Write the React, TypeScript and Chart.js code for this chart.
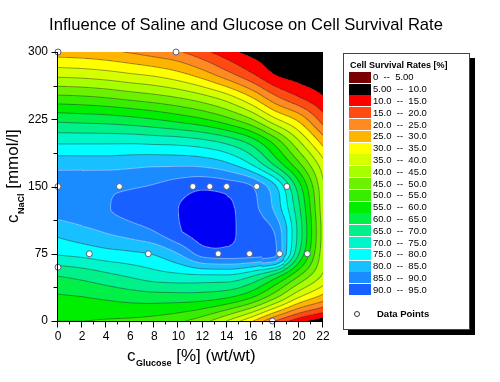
import React, { useEffect, useRef } from "react";
import { Chart, registerables } from "chart.js";
Chart.register(...registerables);

const FONT = "'Liberation Sans', Arial, Helvetica, sans-serif";

const chartTitle = "Influence of Saline and Glucose on Cell Survival Rate";
const legendTitle = "Cell Survival Rates [%]";

// grid axes of the survival surface
const glucoseGrid = [0, 2, 4, 6, 8, 10, 12, 14, 16, 18, 20, 22];
const naclGrid = [0, 25, 50, 75, 100, 125, 150, 175, 200, 225, 250, 275, 300];

// survival rate (%), one row per NaCl level
const survivalNaCl0 = [55, 55, 54.5, 54, 53, 51, 47, 40, 31, 20, 12, 7];
const survivalNaCl25 = [59, 59.5, 60.5, 61.5, 62, 62, 61.5, 59.5, 54.5, 45, 34, 27];
const survivalNaCl50 = [65, 66.5, 68.5, 70.5, 72.5, 73.5, 74, 74, 70.5, 62.5, 50, 39];
const survivalNaCl75 = [75.5, 76.5, 78, 79, 80.5, 85, 92, 93, 92.5, 91, 65, 42];
const survivalNaCl100 = [81.5, 83.5, 85.5, 87.5, 90, 94.5, 97, 96, 93, 89.5, 68, 43];
const survivalNaCl125 = [87.5, 88.5, 89.7, 91.5, 93, 95, 97, 96, 92, 84, 66, 42];
const survivalNaCl150 = [88, 88.5, 89, 89.5, 90.5, 92.5, 94, 93, 90.5, 81, 62, 41];
const survivalNaCl175 = [83, 83, 83, 83.5, 84, 84, 83.5, 81, 75, 64, 51, 37];
const survivalNaCl200 = [74, 74, 74, 74, 73.5, 73, 71.5, 68.5, 63, 53, 40.5, 28];
const survivalNaCl225 = [63.5, 63, 62.5, 61.5, 60, 58, 55.5, 51.5, 45.5, 36, 28.5, 17.5];
const survivalNaCl250 = [51, 50.5, 49.5, 48, 46.5, 44.5, 41.5, 37, 30, 21, 15, 10.3];
const survivalNaCl275 = [38.5, 38, 37, 35.5, 34, 31.5, 27.5, 22, 16, 10, 8, 7];
const survivalNaCl300 = [27.5, 27, 26, 24.5, 22.5, 20.5, 16.5, 12, 8.5, 7.5, 6.5, 6];

const survivalGrid = [
  survivalNaCl0, survivalNaCl25, survivalNaCl50, survivalNaCl75, survivalNaCl100,
  survivalNaCl125, survivalNaCl150, survivalNaCl175, survivalNaCl200, survivalNaCl225,
  survivalNaCl250, survivalNaCl275, survivalNaCl300,
];

// measured data points
const pointsGlucose = [0, 9.8, 0, 5.1, 11.2, 12.6, 14.0, 16.5, 19.0, 2.6, 7.5, 13.3, 15.9, 18.4, 20.7, 0, 17.8];
const pointsNaCl = [300, 300, 150, 150, 150, 150, 150, 150, 150, 75, 75, 75, 75, 75, 75, 60, 0];

// contour levels
const levelStep = 5;
const bandColors = [
  "#7a0000", "#000000", "#ff0000", "#ff4a12", "#ff8a22", "#ffb400", "#ffff00",
  "#d6ff00", "#a8ff00", "#6cf200", "#38ee00", "#00ee00", "#00f048", "#00f08a",
  "#00f6c8", "#00ffff", "#18c0ff", "#1a8cff", "#1860ff", "#0000f4",
];
const legendLabels = [
  "0  --  5.00", "5.00  --  10.0", "10.0  --  15.0", "15.0  --  20.0", "20.0  --  25.0",
  "25.0  --  30.0", "30.0  --  35.0", "35.0  --  40.0", "40.0  --  45.0", "45.0  --  50.0",
  "50.0  --  55.0", "55.0  --  60.0", "60.0  --  65.0", "65.0  --  70.0", "70.0  --  75.0",
  "75.0  --  80.0", "80.0  --  85.0", "85.0  --  90.0", "90.0  --  95.0",
];

function hexToRgb(h: string) {
  const v = parseInt(h.slice(1), 16);
  return [(v >> 16) & 255, (v >> 8) & 255, v & 255];
}
const bandRgb = bandColors.map(hexToRgb);

// monotone cubic Hermite between p1 and p2
function mono(p0: number, p1: number, p2: number, p3: number, t: number) {
  const d0 = p1 - p0, d1 = p2 - p1, d2 = p3 - p2;
  let m1 = (d0 + d1) / 2, m2 = (d1 + d2) / 2;
  if (d1 === 0) { m1 = 0; m2 = 0; }
  else {
    if (d0 * d1 <= 0) m1 = 0;
    if (d1 * d2 <= 0) m2 = 0;
    if (m1 / d1 > 3) m1 = 3 * d1;
    if (m2 / d1 > 3) m2 = 3 * d1;
  }
  const t2 = t * t, t3 = t2 * t;
  return p1 * (2 * t3 - 3 * t2 + 1) + m1 * (t3 - 2 * t2 + t) + p2 * (-2 * t3 + 3 * t2) + m2 * (t3 - t2);
}

function locate(arr: number[], v: number) {
  let i = 0;
  while (i < arr.length - 2 && v > arr[i + 1]) i++;
  const t = (v - arr[i]) / (arr[i + 1] - arr[i]);
  return [i, Math.max(0, Math.min(1, t))];
}

function at(arr: number[], k: number) {
  const m = arr.length;
  if (k < 0) return 2 * arr[0] - arr[1];
  if (k >= m) return 2 * arr[m - 1] - arr[m - 2];
  return arr[k];
}

function sampleSurvival(g: number, n: number) {
  const [ix, tx] = locate(glucoseGrid, g);
  const [iy, ty] = locate(naclGrid, n);
  const col: number[] = [];
  for (let j = -1; j <= 2; j++) {
    const k = iy + j;
    if (k < 0 || k >= survivalGrid.length) continue;
    const row = survivalGrid[k];
    col.push(mono(at(row, ix - 1), at(row, ix), at(row, ix + 1), at(row, ix + 2), tx));
  }
  let c0: number, c1: number, c2: number, c3: number;
  if (iy === 0) { c1 = col[0]; c2 = col[1]; c3 = col[2]; c0 = 2 * c1 - c2; }
  else if (iy + 2 >= survivalGrid.length) { c0 = col[0]; c1 = col[1]; c2 = col[2]; c3 = 2 * c2 - c1; }
  else { c0 = col[0]; c1 = col[1]; c2 = col[2]; c3 = col[3]; }
  return mono(c0, c1, c2, c3, ty);
}

const contourPlugin = {
  id: "contourFill",
  beforeDatasetsDraw(chart: any) {
    const { ctx, chartArea: a, scales } = chart;
    const xs = scales.x, ys = scales.y;
    const left = Math.round(a.left), top = Math.round(a.top);
    const w = Math.round(a.right) - left, h = Math.round(a.bottom) - top;
    const W = w + 2, H = h + 2;
    const vals = new Float32Array(W * H);
    for (let j = 0; j < H; j++) {
      const n = ys.getValueForPixel(top + j - 0.5);
      for (let i = 0; i < W; i++) {
        const g = xs.getValueForPixel(left + i - 0.5);
        vals[j * W + i] = sampleSurvival(g, n);
      }
    }
    const off = document.createElement("canvas");
    off.width = w; off.height = h;
    const octx = off.getContext("2d")!;
    const img = octx.createImageData(w, h);
    const d = img.data;
    for (let j = 0; j < h; j++) {
      for (let i = 0; i < w; i++) {
        const k = (j + 1) * W + (i + 1);
        const v = vals[k];
        const band = Math.max(0, Math.min(bandRgb.length - 1, Math.floor(v / levelStep)));
        let [r, gg, b] = bandRgb[band];
        const gx = (vals[k + 1] - vals[k - 1]) / 2;
        const gy = (vals[k + W] - vals[k - W]) / 2;
        const grad = Math.sqrt(gx * gx + gy * gy) + 1e-6;
        const L = Math.round(v / levelStep) * levelStep;
        if (L > 0 && L < 100) {
          const dist = Math.abs(v - L) / grad;
          const cov = Math.max(0, Math.min(1, 1 - dist));
          if (cov > 0) {
            const light = L >= 85;
            const lc = light ? [190, 205, 255] : [40, 40, 40];
            const al = (light ? 0.55 : 0.45) * cov;
            r = r * (1 - al) + lc[0] * al;
            gg = gg * (1 - al) + lc[1] * al;
            b = b * (1 - al) + lc[2] * al;
          }
        }
        const p = (j * w + i) * 4;
        d[p] = r; d[p + 1] = gg; d[p + 2] = b; d[p + 3] = 255;
      }
    }
    octx.putImageData(img, 0, 0);
    ctx.save();
    ctx.drawImage(off, left, top);
    ctx.restore();
  },
};

const decorPlugin = {
  id: "decor",
  afterDraw(chart: any) {
    const { ctx, chartArea: a, scales } = chart;
    const xs = scales.x, ys = scales.y;
    ctx.save();
    // title
    ctx.fillStyle = "#000";
    ctx.font = `16.6px ${FONT}`;
    ctx.textAlign = "center";
    ctx.textBaseline = "alphabetic";
    ctx.fillText(chartTitle, 246, 30);

    // axis lines
    ctx.strokeStyle = "#000";
    ctx.lineWidth = 1;
    const ax = Math.round(a.left) - 0.5;
    const ay = Math.round(a.bottom) + 0.5;
    ctx.beginPath();
    ctx.moveTo(ax, Math.round(a.top));
    ctx.lineTo(ax, ay);
    ctx.lineTo(Math.round(a.right), ay);
    ctx.stroke();
    // x ticks
    ctx.beginPath();
    for (let g = 0; g <= 22; g += 1) {
      const px = Math.round(xs.getPixelForValue(g)) - 0.5;
      const len = g % 2 === 0 ? 6 : 3;
      ctx.moveTo(px, ay);
      ctx.lineTo(px, ay + len);
    }
    // y ticks
    for (let n = 0; n <= 300; n += 37.5) {
      const py = Math.round(ys.getPixelForValue(n)) + 0.5;
      const len = n % 75 === 0 ? 6 : 4;
      ctx.moveTo(ax, py);
      ctx.lineTo(ax - len, py);
    }
    ctx.stroke();

    // x axis title
    ctx.textAlign = "left";
    ctx.font = `17px ${FONT}`;
    ctx.fillText("c", 127, 361);
    let cw = ctx.measureText("c").width;
    ctx.font = `bold 9px ${FONT}`;
    ctx.fillText("Glucose", 127 + cw + 0.5, 366);
    const sw = ctx.measureText("Glucose").width;
    ctx.font = `17px ${FONT}`;
    ctx.fillText(" [%] (wt/wt)", 127 + cw + 0.5 + sw, 361);

    // y axis title
    ctx.save();
    ctx.translate(18, 223);
    ctx.rotate(-Math.PI / 2);
    ctx.font = `17px ${FONT}`;
    ctx.fillText("c", 0, 0);
    cw = ctx.measureText("c").width;
    ctx.font = `bold 9px ${FONT}`;
    ctx.fillText("NaCl", cw + 0.5, 6);
    const nw = ctx.measureText("NaCl").width;
    ctx.font = `17px ${FONT}`;
    ctx.fillText(" [mmol/l]", cw + 0.5 + nw, 0);
    ctx.restore();

    // legend box
    const bx = 343, by = 53, bw = 127, bh = 277;
    ctx.fillStyle = "#000";
    ctx.fillRect(bx + 5, by + 5, bw, bh);
    ctx.fillStyle = "#fff";
    ctx.fillRect(bx, by, bw, bh);
    ctx.strokeStyle = "#444";
    ctx.strokeRect(bx + 0.5, by + 0.5, bw - 1, bh - 1);
    ctx.fillStyle = "#000";
    ctx.font = `bold 9px ${FONT}`;
    ctx.textAlign = "left";
    ctx.fillText(legendTitle, 350, 68);
    ctx.font = `9.5px ${FONT}`;
    ctx.textBaseline = "middle";
    for (let i = 0; i < legendLabels.length; i++) {
      const yTop = 71.8 + i * 11.8;
      ctx.fillStyle = bandColors[i];
      ctx.fillRect(349, Math.round(yTop), 22, 11);
      ctx.fillStyle = "#000";
      ctx.fillText(legendLabels[i], 373, yTop + 6);
    }
    ctx.beginPath();
    ctx.arc(357, 314, 2.5, 0, Math.PI * 2);
    ctx.fillStyle = "#fff";
    ctx.fill();
    ctx.strokeStyle = "#333";
    ctx.stroke();
    ctx.fillStyle = "#000";
    ctx.font = `bold 9.5px ${FONT}`;
    ctx.fillText("Data Points", 377, 314);
    ctx.restore();
  },
};

export default function App() {
  const ref = useRef<HTMLCanvasElement | null>(null);
  useEffect(() => {
    if (!ref.current) return;
    const chart = new Chart(ref.current, {
      type: "scatter",
      data: {
        datasets: [
          {
            label: "Data Points",
            data: pointsGlucose.map((g, i) => ({ x: g, y: pointsNaCl[i] })),
            pointRadius: 3,
            pointBackgroundColor: "#ffffff",
            pointBorderColor: "#556070",
            pointBorderWidth: 1,
            clip: false as any,
          },
        ],
      },
      options: {
        animation: false,
        responsive: false,
        devicePixelRatio: 1,
        layout: { padding: { top: 52, right: 177, bottom: 0, left: 0 } },
        plugins: { legend: { display: false }, tooltip: { enabled: false }, title: { display: false } },
        scales: {
          x: {
            type: "linear",
            min: 0,
            max: 22,
            ticks: { stepSize: 2, color: "#000", font: { size: 12, family: FONT }, padding: 8, maxRotation: 0 },
            grid: { display: false, drawTicks: false },
            border: { display: false },
            afterFit: (s: any) => { s.height = 61; },
          },
          y: {
            type: "linear",
            min: 0,
            max: 300,
            ticks: { stepSize: 75, color: "#000", font: { size: 12, family: FONT }, padding: 10 },
            grid: { display: false, drawTicks: false },
            border: { display: false },
            afterFit: (s: any) => { s.width = 58; },
          },
        },
      } as any,
      plugins: [contourPlugin, decorPlugin],
    });
    return () => chart.destroy();
  }, []);
  return (
    <div style={{ position: "absolute", left: 0, top: 0, width: 500, height: 382, background: "#fff" }}>
      <canvas ref={ref} width={500} height={382} />
    </div>
  );
}
